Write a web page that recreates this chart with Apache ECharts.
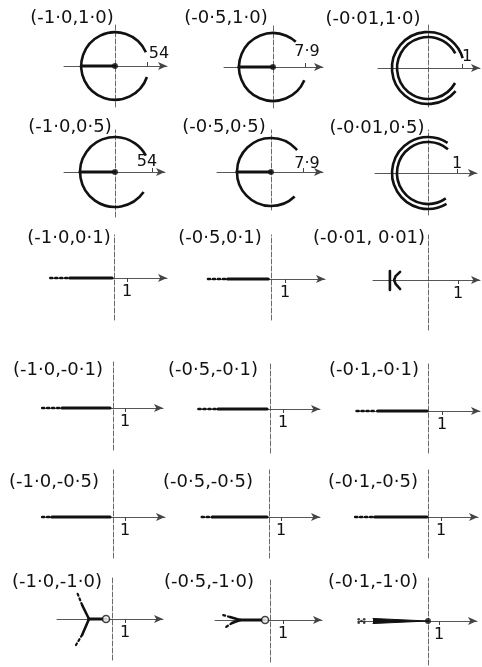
<!DOCTYPE html>
<html>
<head>
<meta charset="utf-8">
<script src="https://cdn.jsdelivr.net/npm/echarts@6/dist/echarts.min.js"></script>
<style>
  html, body { margin: 0; padding: 0; background: #fff; }
  #chart { width: 482px; height: 667px; }
</style>
</head>
<body>
<div id="chart"></div>
<script>
// Parameter pair shown above each small plot
const panelTitles = [
  '(-1·0,1·0)', '(-0·5,1·0)', '(-0·01,1·0)',
  '(-1·0,0·5)', '(-0·5,0·5)', '(-0·01,0·5)',
  '(-1·0,0·1)', '(-0·5,0·1)', '(-0·01, 0·01)',
  '(-1·0,-0·1)', '(-0·5,-0·1)', '(-0·1,-0·1)',
  '(-1·0,-0·5)', '(-0·5,-0·5)', '(-0·1,-0·5)',
  '(-1·0,-1·0)', '(-0·5,-1·0)', '(-0·1,-1·0)'
];

// Value marked on the positive real axis of each plot
const tickValues = [54, 7.9, 1, 54, 7.9, 1, 1, 1, 1, 1, 1, 1, 1, 1, 1, 1, 1, 1];

// Circular loci: [plot, radius, start angle (deg), end angle (deg)], counter-clockwise
const arcs = [
  [0, 57, 24, 341],
  [1, 8.4, 48, 337],
  [2, 1.06, 16, 320],
  [2, 0.91, 28, 331],
  [3, 51, 28, 325],
  [4, 8.4, 40, 314],
  [5, 1.24, 57, 301],
  [5, 1.07, 50, 305]
];

// Heavy segments lying on the negative real axis: [plot, from, to]
const heavySegments = [
  [0, -57, 0], [1, -8.4, 0], [3, -51, 0], [4, -8.4, 0],
  [6, -3.4, -0.15], [7, -3.1, -0.2],
  [9, -4.25, -0.25], [10, -4.0, -0.23], [11, -3.6, -0.07],
  [12, -5.1, -0.25], [13, -4.7, -0.17], [14, -4.1, -0.08],
  [15, -1.77, -0.46], [16, -2.3, -0.38]
];

// Dotted lead-ins ahead of the heavy segments: [plot, from, to]
const dottedLeads = [
  [6, -4.9, -3.4], [7, -4.5, -3.1],
  [9, -5.9, -4.4], [10, -5.5, -4.1], [11, -5.1, -3.8],
  [12, -5.9, -5.1], [13, -5.6, -4.7], [14, -5.6, -4.1]
];

// Solid branches leaving the real axis: [plot, points]
const solidBranches = [
  [8, [[-1.27, 0.3], [-1.27, -0.33]]],
  [8, [[-0.93, 0.27], [-1.08, 0.13], [-1.13, 0], [-1.08, -0.13], [-0.93, -0.3]]],
  [15, [[-1.77, 0], [-2.3, 1.08]]],
  [15, [[-1.77, 0], [-2.3, -1.23]]],
  [16, [[-2.3, 0], [-3.08, 0.23]]],
  [16, [[-2.3, 0], [-2.92, -0.23]]]
];

// Dotted continuations of those branches: [plot, points]
const dottedBranches = [
  [15, [[-2.3, 1.08], [-2.7, 2.08]]],
  [15, [[-2.3, -1.23], [-2.77, -2.0]]],
  [16, [[-3.08, 0.23], [-3.6, 0.38]]],
  [16, [[-2.92, -0.23], [-3.5, -0.62]]]
];

// Tapered heavy wedge ending at the origin: [plot, left end, half width there]
const wedges = [[17, -5.0, 0.23]];

// Scattered specks at the far end of the wedge: [plot, x, y]
const specks = [
  [17, -6.3, 0.15], [17, -6.3, -0.15], [17, -5.8, 0.15], [17, -5.8, -0.15], [17, -6.05, 0]
];

// Filled dots and open circles: [plot, x, y]
const solidDots = [[0, 0, 0], [1, 0, 0], [3, 0, 0], [4, 0, 0], [17, 0, 0]];
const openCircles = [[15, -0.46, 0], [16, -0.38, 0]];

// Page layout of each plot, in pixels:
// origin x, origin y, axis left, axis right, axis top, axis bottom, tick x,
// label shift, label gap, label above axis
const panelBoxes = [
  [115, 66, 64, 167, 25, 107, 147, 12, 4, true],
  [273, 67, 224, 323, 25, 108, 305, 2, 7, true],
  [428, 68, 378, 480, 25, 107, 462, 5, 3, true],
  [115, 172, 64, 165, 130, 217, 152, -5, 2, true],
  [271, 172, 217, 323, 130, 210, 303, 4, 0, true],
  [428, 173, 375, 477, 130, 215, 457, 0, 1, true],
  [114, 278, 50, 167, 235, 320, 127, 0, 6, false],
  [271, 279, 208, 325, 235, 320, 285, 0, 6, false],
  [428, 280, 373, 480, 235, 330, 458, 0, 6, false],
  [113, 408, 42, 163, 362, 450, 125, 0, 6, false],
  [270, 409, 198, 320, 362, 453, 283, 0, 6, false],
  [428, 411, 357, 480, 362, 453, 442, 0, 6, false],
  [113, 517, 42, 165, 470, 558, 125, 0, 6, false],
  [269, 517, 202, 320, 470, 558, 281, 0, 6, false],
  [428, 517, 355, 478, 470, 558, 441, 0, 6, false],
  [112, 619, 57, 163, 578, 660, 125, 0, 6, false],
  [270, 620, 215, 322, 578, 662, 283, 0, 6, false],
  [428, 621, 358, 477, 578, 665, 439, 0, 6, false]
];

// Title centres, in pixels
const titleCentres = [
  [72, 18], [226, 18], [373, 19],
  [70, 127], [224, 127], [377, 128],
  [69, 238], [220, 238], [369, 238],
  [58, 370], [213, 370], [374, 370],
  [54, 482], [208, 482], [373, 482],
  [57, 582], [209, 582], [373, 582]
];

const INK = '#111';
const AXIS = '#444';
const FONT = 'DejaVu Sans';

const grids = [], xAxes = [], yAxes = [], series = [], graphics = [];

panelBoxes.forEach((b, i) => {
  const [ox, oy, x0, x1, y0, y1, tickPx, dx, gap, above] = b;
  const T = tickValues[i];
  const k = (tickPx - ox) / T; // pixels per unit, same on both axes
  grids.push({ left: x0, top: y0, width: x1 - x0, height: y1 - y0 });
  // axes are pulled in from the grid edges so that they cross at the origin
  xAxes.push({
    gridIndex: i, type: 'value', position: 'bottom', offset: -(y1 - oy),
    min: (x0 - ox) / k, max: (x1 - ox) / k,
    axisLine: {
      show: true, onZero: false,
      symbol: ['none', 'arrow'], symbolSize: [6, 9],
      lineStyle: { color: AXIS, width: 0.9 }
    },
    axisTick: { show: true, customValues: [T], length: 4, inside: above, lineStyle: { color: AXIS, width: 1 } },
    axisLabel: {
      show: true, customValues: [T], inside: above, margin: gap,
      formatter: v => String(v).replace('.', '·'),
      fontSize: 16, fontFamily: FONT, color: INK,
      padding: dx >= 0 ? [0, 0, 0, 2 * dx] : [0, -2 * dx, 0, 0]
    },
    splitLine: { show: false }
  });
  yAxes.push({
    gridIndex: i, type: 'value', position: 'left', offset: -(ox - x0),
    min: -(y1 - oy) / k, max: (oy - y0) / k,
    axisLine: { show: true, onZero: false, lineStyle: { color: AXIS, width: 0.8, type: [5, 2] } },
    axisTick: { show: false }, axisLabel: { show: false }, splitLine: { show: false }
  });
  graphics.push({
    type: 'text', x: titleCentres[i][0], y: titleCentres[i][1],
    style: { text: panelTitles[i], font: '18px "' + FONT + '"', fill: INK, align: 'center', verticalAlign: 'middle' }
  });
});

const lineSeries = (panel, data, width, type) => ({
  type: 'line', xAxisIndex: panel, yAxisIndex: panel, data,
  showSymbol: false, silent: true, z: 3,
  lineStyle: { color: INK, width, type: type || 'solid', cap: 'round' }
});

arcs.forEach(([p, r, a0, a1]) => {
  series.push({
    type: 'custom', xAxisIndex: p, yAxisIndex: p, silent: true, z: 3,
    data: [[r, a0, a1]],
    renderItem: (params, api) => {
      const c = api.coord([0, 0]);
      const e = api.coord([api.value(0), 0]);
      return {
        type: 'arc',
        shape: {
          cx: c[0], cy: c[1], r: e[0] - c[0],
          startAngle: -api.value(2) * Math.PI / 180,
          endAngle: -api.value(1) * Math.PI / 180,
          clockwise: true
        },
        style: { stroke: INK, lineWidth: 2.6, fill: null }
      };
    }
  });
});

heavySegments.forEach(([p, a, b]) => series.push(lineSeries(p, [[a, 0], [b, 0]], 3.2)));
dottedLeads.forEach(([p, a, b]) => series.push(lineSeries(p, [[a, 0], [b, 0]], 2.6, [2, 3])));
solidBranches.forEach(([p, pts]) => series.push(lineSeries(p, pts, 2.6)));
dottedBranches.forEach(([p, pts]) => series.push(lineSeries(p, pts, 2.2, [2, 3])));

wedges.forEach(([p, a, h]) => {
  [h, -h].forEach(s => {
    const ls = lineSeries(p, [[a, s], [0, 0]], 1);
    ls.areaStyle = { color: INK, opacity: 1 };
    series.push(ls);
  });
});

const groupBy = rows => {
  const m = {};
  rows.forEach(([p, x, y]) => { (m[p] = m[p] || []).push([x, y]); });
  return m;
};

Object.entries(groupBy(specks)).forEach(([p, pts]) => series.push({
  type: 'scatter', xAxisIndex: +p, yAxisIndex: +p, data: pts, silent: true, z: 4,
  symbol: 'circle', symbolSize: 2.6, itemStyle: { color: INK }
}));
Object.entries(groupBy(solidDots)).forEach(([p, pts]) => series.push({
  type: 'scatter', xAxisIndex: +p, yAxisIndex: +p, data: pts, silent: true, z: 5,
  symbol: 'circle', symbolSize: 6, itemStyle: { color: INK }
}));
Object.entries(groupBy(openCircles)).forEach(([p, pts]) => series.push({
  type: 'scatter', xAxisIndex: +p, yAxisIndex: +p, data: pts, silent: true, z: 5,
  symbol: 'circle', symbolSize: 7, itemStyle: { color: '#fff', borderColor: INK, borderWidth: 1.6 }
}));

const chart = echarts.init(document.getElementById('chart'), null, { renderer: 'canvas' });
chart.setOption({
  backgroundColor: '#fff',
  animation: false,
  grid: grids,
  xAxis: xAxes,
  yAxis: yAxes,
  graphic: graphics,
  series
});
</script>
</body>
</html>
